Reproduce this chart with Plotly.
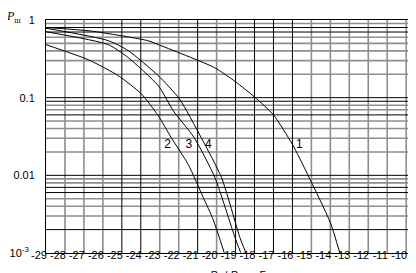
import plotly.graph_objects as go

# ---- data ----
snr1 = [-29, -26.6, -23.6, -23.1, -20.1, -19.0, -18.0, -17.0, -16.0, -15.2, -14.0, -13.5]
p1   = [0.80, 0.72, 0.54, 0.485, 0.243, 0.16, 0.102, 0.060, 0.025, 0.0103, 0.00246, 0.001]

snr2 = [-29, -26.77, -25.19, -23.97, -23.08, -22.39, -21.49, -20.70, -20.18, -19.60]
p2   = [0.481, 0.308, 0.192, 0.112, 0.0586, 0.0305, 0.0137, 0.00516, 0.00269, 0.00101]

snr3 = [-29, -25.71, -24.66, -23.08, -22.29, -21.18, -20.09, -19.03, -18.73]
p3   = [0.707, 0.481, 0.327, 0.143, 0.068, 0.0305, 0.00934, 0.00158, 0.00101]

snr4 = [-29, -25.71, -24.66, -23.08, -21.97, -20.81, -19.74, -18.77, -18.46]
p4   = [0.784, 0.542, 0.403, 0.192, 0.097, 0.0305, 0.00934, 0.00158, 0.00101]

curve_labels = ["1", "2", "3", "4"]
label_x = [-15.64, -22.59, -21.46, -20.44]
label_y = [0.0246, 0.0246, 0.0246, 0.0246]

x_ticks = list(range(-29, -9))
x_ticktext = ["-%d" % abs(v) for v in x_ticks]
y_ticks = [0.001, 0.01, 0.1, 1]
y_ticktext = ["10<sup>-3</sup>&nbsp;&nbsp;", "0.01", "0.1", "1"]

# grid line values (styling: some lines dark, some grey, as in the scan)
vgrid_dark = [-25, -24, -21, -19, -18, -17, -16]
vgrid_grey = [v for v in range(-28, -9) if v not in vgrid_dark]
hgrid_all = [m * 10.0 ** e for e in (-3, -2, -1) for m in range(2, 10)] + [0.01, 0.1]
hgrid_dark = [0.8, 0.7, 0.1, 0.09, 0.06, 0.01, 0.007, 0.006, 0.002]

Y0, Y1 = 0.001, 1.0
X0, X1 = -29, -9.06

fig = go.Figure()

def vlines(vals):
    xs, ys = [], []
    for v in vals:
        xs += [v, v, None]
        ys += [Y0, Y1, None]
    return xs, ys

def hlines(vals):
    xs, ys = [], []
    for v in vals:
        xs += [X0, X1, None]
        ys += [v, v, None]
    return xs, ys

def is_dark(v):
    return any(abs(v - d) / d < 1e-6 for d in hgrid_dark)

hgrey = [v for v in hgrid_all if not is_dark(v)]
hdark = [v for v in hgrid_all if is_dark(v)]

for xs, ys, col, w in [
    (*vlines(vgrid_grey), "#8e8e8e", 1.6),
    (*hlines(hgrey), "#8e8e8e", 1.6),
    (*vlines(vgrid_dark), "#000000", 1),
    (*hlines(hdark), "#000000", 1),
]:
    fig.add_trace(go.Scatter(x=xs, y=ys, mode="lines", line=dict(color=col, width=w),
                             hoverinfo="skip", showlegend=False))

for sx, sy in [(snr1, p1), (snr2, p2), (snr3, p3), (snr4, p4)]:
    fig.add_trace(go.Scatter(x=sx, y=sy, mode="lines",
                             line=dict(color="black", width=1, shape="spline", smoothing=0.6),
                             hoverinfo="skip", showlegend=False))

fig.add_trace(go.Scatter(x=label_x, y=label_y, mode="text", text=curve_labels,
                         textfont=dict(family="Liberation Sans", size=12, color="black"),
                         hoverinfo="skip", showlegend=False))

fig.update_layout(
    width=416, height=273,
    margin=dict(l=38, r=0, t=12, b=28),
    paper_bgcolor="white", plot_bgcolor="white",
    font=dict(family="Liberation Sans", size=11, color="black"),
    xaxis=dict(range=[X0, X1], tickvals=x_ticks, ticktext=x_ticktext,
               showgrid=False, zeroline=False, showline=True, linecolor="black",
               linewidth=1, mirror=True, ticks="", ticklen=0, ticklabelshift=-7,
               ticklabelstandoff=-8, tickfont=dict(size=11)),
    yaxis=dict(type="log", range=[-3, 0], tickvals=y_ticks, ticktext=y_ticktext,
               showgrid=False, zeroline=False, showline=True, linecolor="black",
               linewidth=1, ticks="outside", ticklen=8, tickcolor="rgba(0,0,0,0)",
               tickfont=dict(size=11)),
)

fig.add_annotation(xref="paper", yref="paper", x=-0.11, y=1.055, xanchor="left", yanchor="top",
                   text="<i>P</i><sub>ш</sub>", showarrow=False,
                   font=dict(family="Liberation Serif", size=12))
fig.add_annotation(xref="paper", yref="paper", x=0.51, y=-0.06, xanchor="center", yanchor="top",
                   text="<i>P</i><sub>с</sub> / <i>P</i><sub>ш</sub> , дБ", showarrow=False,
                   font=dict(family="Liberation Sans", size=11))

fig.write_html("out.html")
